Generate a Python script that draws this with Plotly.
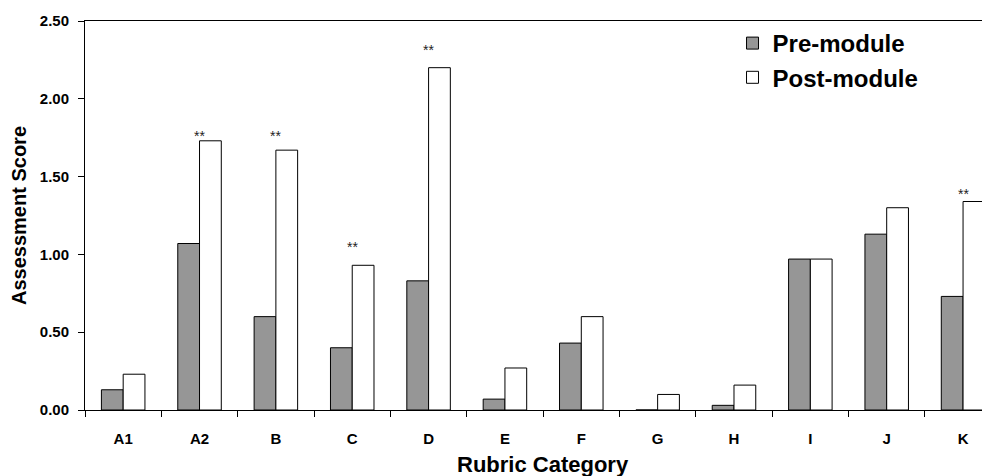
import plotly.graph_objects as go

categories = ["A1", "A2", "B", "C", "D", "E", "F", "G", "H", "I", "J", "K"]
pre_module = [0.13, 1.07, 0.60, 0.40, 0.83, 0.07, 0.43, 0.00, 0.03, 0.97, 1.13, 0.73]
post_module = [0.23, 1.73, 1.67, 0.93, 2.20, 0.27, 0.60, 0.10, 0.16, 0.97, 1.30, 1.34]
sig_categories = ["A2", "B", "C", "D", "K"]
sig_label_y = [1.78, 1.78, 1.07, 2.33, 1.41]
y_ticks = [0.0, 0.5, 1.0, 1.5, 2.0, 2.5]

FONT = "Arial, Liberation Sans, sans-serif"

fig = go.Figure()
fig.add_trace(go.Bar(
    name="Pre-module", x=categories, y=pre_module,
    marker=dict(color="#969696", line=dict(color="#000000", width=1)),
))
fig.add_trace(go.Bar(
    name="Post-module", x=categories, y=post_module,
    marker=dict(color="#ffffff", line=dict(color="#000000", width=1)),
))

for c, yv in zip(sig_categories, sig_label_y):
    fig.add_annotation(x=c, y=yv, text="**", showarrow=False,
                       xref="x", yref="y", yanchor="middle", yshift=-3,
                       font=dict(family=FONT, size=14, color="#222222"))

fig.add_annotation(x=(543 - 85) / 905, y=-0.139, xref="paper", yref="paper",
                   text="<b>Rubric Category</b>", showarrow=False,
                   yanchor="middle", font=dict(family=FONT, size=22, color="#000000"))

# page body has an 8px default margin; size the figure to compensate
fig.update_layout(
    width=982, height=468,
    margin=dict(l=77, r=0, t=13, b=66, autoexpand=False),
    paper_bgcolor="#ffffff", plot_bgcolor="#ffffff",
    barmode="group", bargap=0.43, bargroupgap=0,
    font=dict(family=FONT, color="#000000"),
    showlegend=True,
    legend=dict(x=0.7155, y=1.0, xanchor="left", yanchor="top",
                font=dict(family=FONT, size=24, color="#000000", weight="bold"),
                bgcolor="rgba(0,0,0,0)", tracegroupgap=0),
)
fig.update_xaxes(
    type="category", range=[-0.5, 11.353], automargin=False,
    showline=True, linecolor="#000000", linewidth=1, mirror=True,
    ticks="outside", tickson="boundaries", ticklen=6, tickcolor="#000000",
    tickfont=dict(family=FONT, size=15, color="#000000", weight="bold"),
    ticklabelstandoff=15,
    showgrid=False, zeroline=False,
)
fig.update_yaxes(
    range=[0, 2.5], tickvals=y_ticks, tickformat=".2f", automargin=False,
    showline=True, linecolor="#000000", linewidth=1,
    ticks="outside", ticklen=6, tickcolor="#000000",
    tickfont=dict(family=FONT, size=15, color="#000000", weight="bold"),
    ticklabelstandoff=6,
    showgrid=False, zeroline=False,
    title=dict(text="<b>Assessment Score</b>", font=dict(family=FONT, size=20, color="#000000"),
               standoff=10),
)

fig.write_html("out.html")
